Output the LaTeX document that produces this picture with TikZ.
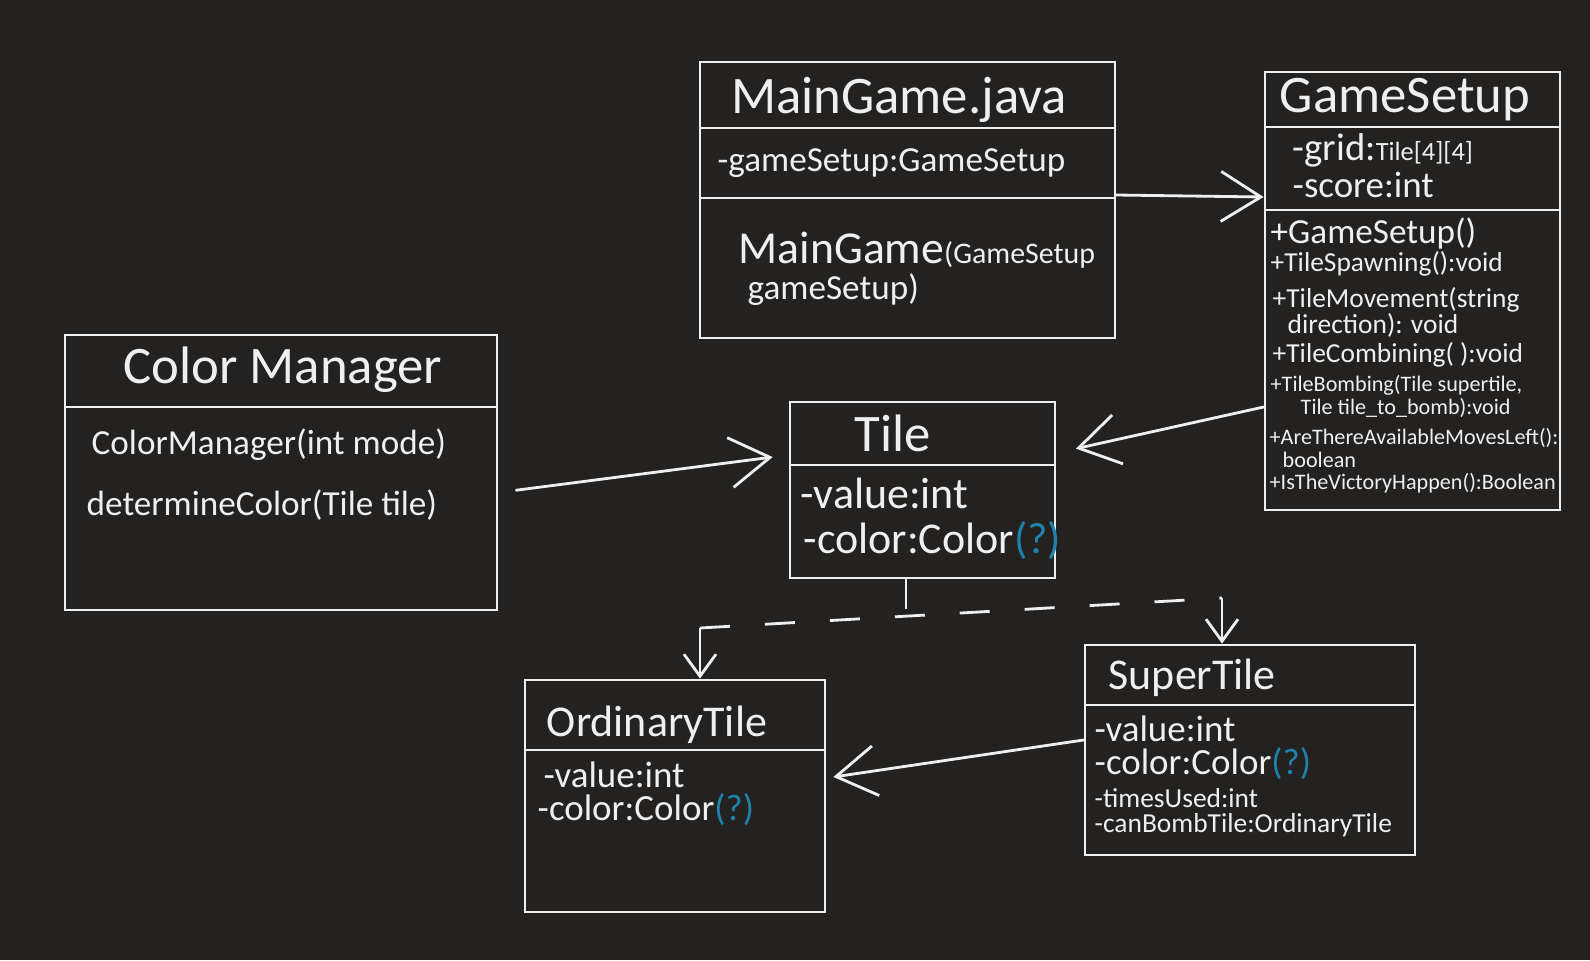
\documentclass[tikz,border=0pt]{standalone}
\usepackage{fontspec}
\setmainfont{Carlito}
\usepackage{xcolor}
\usetikzlibrary{positioning, arrows.meta, fit, calc}
\definecolor{boardBg}{HTML}{232221}
\definecolor{chalk}{HTML}{EFEFEF}
\definecolor{askBlue}{HTML}{1E82AC}

\begin{document}
\begin{tikzpicture}[x=0.01cm, y=-0.01cm,
    every node/.style={text=chalk},
    classBox/.style={draw=chalk, line width=0.8pt, inner sep=0pt},
    rule/.style={draw=chalk, line width=0.8pt},
    assoc/.style={draw=chalk, line width=0.8pt, line cap=round, -{Straight Barb[length=4mm, width=5mm]}},
    dashLink/.style={draw=chalk, line width=0.8pt, dash pattern=on 3mm off 3.5mm},
    subArrow/.style={draw=chalk, line width=0.8pt, -{Straight Barb[length=2.2mm, width=3.2mm]}},
    ttlFont/.style={font=\fontsize{15}{18}\selectfont},
    bigFont/.style={font=\fontsize{12.5}{15}\selectfont},
    rowFont/.style={font=\fontsize{10.5}{12.5}\selectfont},
    midFont/.style={font=\fontsize{10}{12}\selectfont},
    smlFont/.style={font=\fontsize{7.8}{9}\selectfont},
    tnyFont/.style={font=\fontsize{6.3}{7.5}\selectfont},
    txtRow/.style={anchor=west, inner sep=0pt}
  ]
  % Blackboard
  \fill[boardBg] (0,0) rectangle (1590,960);
  \useasboundingbox (0,0) rectangle (1590,960);

  % Class boxes
  \node[classBox, fit={(700,62) (1115,338)}] (mainGame) {};
  \node[classBox, fit={(1265,72) (1560,510)}] (gameSetup) {};
  \node[classBox, fit={(65,335) (497,610)}] (colorMgr) {};
  \node[classBox, fit={(790,402) (1055,578)}] (tile) {};
  \node[classBox, fit={(525,680) (825,912)}] (ordTile) {};
  \node[classBox, fit={(1085,645) (1415,855)}] (superTile) {};

  % Compartment rules
  \foreach \cls/\yy in {mainGame/128, mainGame/198, gameSetup/127, gameSetup/210,
                        colorMgr/407, tile/465, ordTile/750, superTile/705}
    \draw[rule] (\cls.west |- 0,\yy) -- (\cls.east |- 0,\yy);

  % MainGame.java
  \node[ttlFont] (mgName) at (899,100) {MainGame.java};
  \node[midFont, txtRow] (mgAttr) at (717,163) {-gameSetup:GameSetup};
  \node[txtRow] (mgCtorA) at (738,250) {{\fontsize{13}{15}\selectfont MainGame}{\fontsize{8.5}{10}\selectfont (GameSetup}};
  \node[midFont, txtRow] (mgCtorB) at (747,290) {gameSetup)};

  % GameSetup
  \node[ttlFont] (gsName) at (1405,100) {GameSetup};
  \node[txtRow] (gsGrid) at (1292,150) {{\fontsize{11}{13}\selectfont -grid:}{\fontsize{7.5}{9}\selectfont Tile[4][4]}};
  \node[rowFont, txtRow] (gsScore) at (1292,185) {-score:int};
  \node[midFont, txtRow] (gsCtor) at (1270,233) {+GameSetup()};
  \node[smlFont, txtRow] (gsSpawn) at (1270,264) {+TileSpawning():void};
  \node[smlFont, txtRow] (gsMoveA) at (1272,300) {+TileMovement(string};
  \node[smlFont, txtRow] (gsMoveB) at (1287,325) {direction): void};
  \node[smlFont, txtRow] (gsComb) at (1272,355) {+TileCombining( ):void};
  \node[tnyFont, txtRow] (gsBombA) at (1270,385) {+TileBombing(Tile supertile,};
  \node[tnyFont, txtRow] (gsBombB) at (1300,408) {Tile tile\_to\_bomb):void};
  \node[tnyFont, txtRow] (gsMovesA) at (1269,438) {+AreThereAvailableMovesLeft():};
  \node[tnyFont, txtRow] (gsMovesB) at (1282,460) {boolean};
  \node[tnyFont, txtRow] (gsWin) at (1269,483) {+IsTheVictoryHappen():Boolean};

  % Color Manager
  \node[ttlFont] (cmName) at (283,370) {Color Manager};
  \node[midFont, txtRow] (cmCtor) at (91,445) {ColorManager(int mode)};
  \node[midFont, txtRow] (cmDet) at (86,505) {determineColor(Tile tile)};

  % Tile
  \node[ttlFont] (tileName) at (893,433) {Tile};
  \node[bigFont, txtRow] (tileVal) at (800,493) {-value:int};
  \node[bigFont, txtRow] (tileCol) at (803,540) {-color:Color\textcolor{askBlue}{(?)}};

  % OrdinaryTile
  \node[bigFont] (otName) at (657,725) {OrdinaryTile};
  \node[rowFont, txtRow] (otVal) at (543,775) {-value:int};
  \node[rowFont, txtRow] (otCol) at (537,810) {-color:Color\textcolor{askBlue}{(?)}};

  % SuperTile
  \node[bigFont, txtRow] (stName) at (1108,678) {SuperTile};
  \node[rowFont, txtRow] (stVal) at (1094,729) {-value:int};
  \node[rowFont, txtRow] (stCol) at (1094,764) {-color:Color\textcolor{askBlue}{(?)}};
  \node[smlFont, txtRow] (stUsed) at (1094,798) {-timesUsed:int};
  \node[smlFont, txtRow] (stBomb) at (1094,825) {-canBombTile:OrdinaryTile};

  % Associations
  \draw[assoc] (mainGame.east |- 0,195) -- (gameSetup.west |- 0,197);
  \draw[assoc, shorten <=1.8mm, shorten >=1.6mm] ([yshift=-2mm]colorMgr.east) -- ([yshift=3.5mm]tile.west);
  \draw[assoc, shorten >=2mm] (gameSetup.west |- 0,407) -- ([yshift=3.7mm]tile.east);
  \draw[assoc, shorten >=0.7mm] (superTile.west |- 0,740) -- (ordTile.east |- 0,778);

  % Tile specialisations (dashed)
  \coordinate (split) at (906,614);
  \coordinate (toOrd) at (700,628);
  \coordinate (toSup) at (1222,598);
  \draw[dashLink] (split |- tile.south) -- (split);
  \draw[dashLink] (toOrd) -- (toSup);
  \draw[subArrow] (toOrd) -- (toOrd |- ordTile.north);
  \draw[subArrow] (toSup) -- (toSup |- superTile.north);
\end{tikzpicture}
\end{document}
